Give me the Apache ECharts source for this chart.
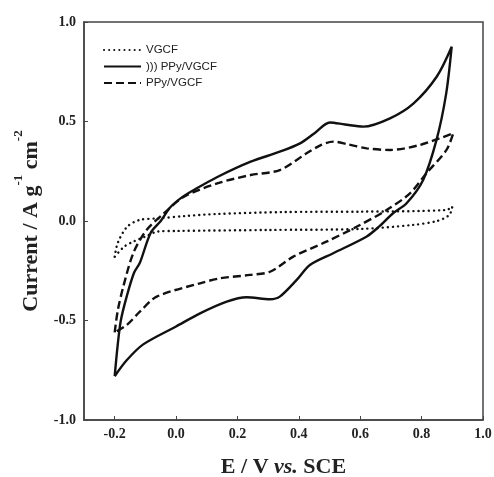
<!DOCTYPE html>
<html>
<head>
<meta charset="utf-8">
<script src="https://cdn.jsdelivr.net/npm/echarts@6/dist/echarts.min.js"></script>
<style>html,body{margin:0;padding:0;background:#fff;}#c{width:494px;height:477px;}</style>
</head>
<body>
<div id="c"></div>
<script>
// Series names
const seriesNames = ['VGCF', '))) PPy/VGCF', 'PPy/VGCF'];
// VGCF (dotted)
const vgcfE = [-0.2, -0.19, -0.16, -0.12, -0.06, 0.03, 0.13, 0.35, 0.6, 0.88, 0.9, 0.89, 0.85, 0.77, 0.6, 0.3, 0.0, -0.06, -0.1, -0.14, -0.17, -0.2];
const vgcfI = [-0.18, -0.11, -0.03, 0.005, 0.013, 0.025, 0.035, 0.045, 0.047, 0.055, 0.072, 0.03, 0.0, -0.02, -0.04, -0.045, -0.05, -0.053, -0.078, -0.104, -0.13, -0.18];
// Sonicated PPy/VGCF (solid)
const sonoE = [-0.2, -0.19, -0.18, -0.161, -0.137, -0.118, -0.083, -0.05, -0.018, 0.02, 0.058, 0.133, 0.243, 0.338, 0.404, 0.45, 0.501, 0.55, 0.61, 0.697, 0.773, 0.849, 0.898,
  0.88, 0.849, 0.805, 0.751, 0.707, 0.66, 0.62, 0.512, 0.436, 0.393, 0.338, 0.306, 0.23, 0.165, 0.078, 0.0, -0.107, -0.161, -0.2];
const sonoI = [-0.78, -0.62, -0.5, -0.38, -0.26, -0.21, -0.06, 0.0, 0.07, 0.12, 0.156, 0.22, 0.298, 0.348, 0.39, 0.44, 0.495, 0.485, 0.474, 0.516, 0.59, 0.725, 0.876,
  0.64, 0.41, 0.206, 0.089, 0.039, -0.03, -0.079, -0.162, -0.221, -0.296, -0.38, -0.393, -0.383, -0.405, -0.464, -0.53, -0.62, -0.7, -0.78];
// PPy/VGCF (dashed)
const ppyE = [-0.2, -0.19, -0.172, -0.139, -0.096, -0.039, 0.026, 0.134, 0.243, 0.338, 0.425, 0.47, 0.512, 0.56, 0.621, 0.697, 0.794, 0.903,
  0.881, 0.816, 0.762, 0.686, 0.588, 0.49, 0.382, 0.306, 0.241, 0.143, 0.078, -0.063, -0.118, -0.161, -0.2];
const ppyI = [-0.56, -0.45, -0.33, -0.16, -0.045, 0.039, 0.122, 0.189, 0.231, 0.256, 0.34, 0.38, 0.399, 0.385, 0.365, 0.357, 0.382, 0.441,
  0.357, 0.24, 0.139, 0.055, -0.029, -0.104, -0.179, -0.255, -0.271, -0.288, -0.313, -0.38, -0.456, -0.523, -0.56];

const xTicks = [-0.2, 0.0, 0.2, 0.4, 0.6, 0.8, 1.0];
const yTicks = [-1.0, -0.5, 0.0, 0.5, 1.0];

function pairs(xs, ys) { return xs.map((x, i) => [x, ys[i]]); }

const chart = echarts.init(document.getElementById('c'), null, {renderer: 'canvas'});
const lineCol = '#111';
const serif = '"Liberation Serif", "Times New Roman", serif';
chart.setOption({
  animation: false,
  grid: {left: 84, right: 11, top: 22, bottom: 57, containLabel: false, outerBoundsMode: 'none',
    show: true, borderColor: '#444', borderWidth: 1.5, backgroundColor: 'transparent'},
  legend: {
    orient: 'vertical', left: 103, top: 44, padding: 0, itemWidth: 37, itemHeight: 12, itemGap: 4.5,
    data: seriesNames,
    itemStyle: {opacity: 0, color: 'transparent', borderWidth: 0},
    textStyle: {fontFamily: '"Liberation Sans", Arial, sans-serif', fontSize: 11.5, color: '#222'}
  },
  xAxis: {
    type: 'value', min: -0.3, max: 1.0,
    axisLine: {show: true, onZero: false, lineStyle: {color: '#444', width: 1.5}},
    axisTick: {show: true, inside: true, length: 4, lineStyle: {color: '#444'}, customValues: xTicks},
    splitLine: {show: false},
    axisLabel: {
      fontFamily: serif, fontWeight: 'bold', fontSize: 14, color: '#222', margin: 7,
      customValues: xTicks,
      formatter: v => (Math.round(v * 10) / 10).toFixed(1)
    },
    name: '{b|E / V }{i|vs.}{b| SCE}', nameLocation: 'middle', nameGap: 36,
    nameTextStyle: {rich: {
      b: {fontFamily: serif, fontWeight: 'bold', fontSize: 22, color: '#222'},
      i: {fontFamily: serif, fontWeight: 'bold', fontStyle: 'italic', fontSize: 22, color: '#222'}
    }}
  },
  yAxis: {
    type: 'value', min: -1.0, max: 1.0,
    axisLine: {show: true, onZero: false, lineStyle: {color: '#444', width: 1.5}},
    axisTick: {show: true, inside: true, length: 4, lineStyle: {color: '#444'}, customValues: yTicks},
    splitLine: {show: false},
    axisLabel: {fontFamily: serif, fontWeight: 'bold', fontSize: 14, color: '#222', margin: 8,
      customValues: yTicks,
      formatter: v => (Math.round(v * 10) / 10).toFixed(1)},
    name: '{b|Current / A g}{s|-1}{b| cm}{s|-2}', nameLocation: 'middle', nameGap: 42,
    nameTextStyle: {rich: {
      b: {fontFamily: serif, fontWeight: 'bold', fontSize: 22, color: '#222', lineHeight: 30, verticalAlign: 'bottom'},
      s: {fontFamily: serif, fontWeight: 'bold', fontSize: 13, color: '#222', lineHeight: 30, verticalAlign: 'top'}
    }}
  },
  series: [
    {name: seriesNames[0], type: 'line', data: pairs(vgcfE, vgcfI), showSymbol: false, symbol: 'none', smooth: 0.3,
      lineStyle: {color: lineCol, width: 2.4, type: [0.1, 5], cap: 'round'}, itemStyle: {color: lineCol}},
    {name: seriesNames[1], type: 'line', data: pairs(sonoE, sonoI), showSymbol: false, symbol: 'none', smooth: 0.3,
      lineStyle: {color: lineCol, width: 2.4, type: 'solid'}, itemStyle: {color: lineCol}},
    {name: seriesNames[2], type: 'line', data: pairs(ppyE, ppyI), showSymbol: false, symbol: 'none', smooth: 0.3,
      lineStyle: {color: lineCol, width: 2.4, type: [8, 4]}, itemStyle: {color: lineCol}}
  ]
});
</script>
</body>
</html>
